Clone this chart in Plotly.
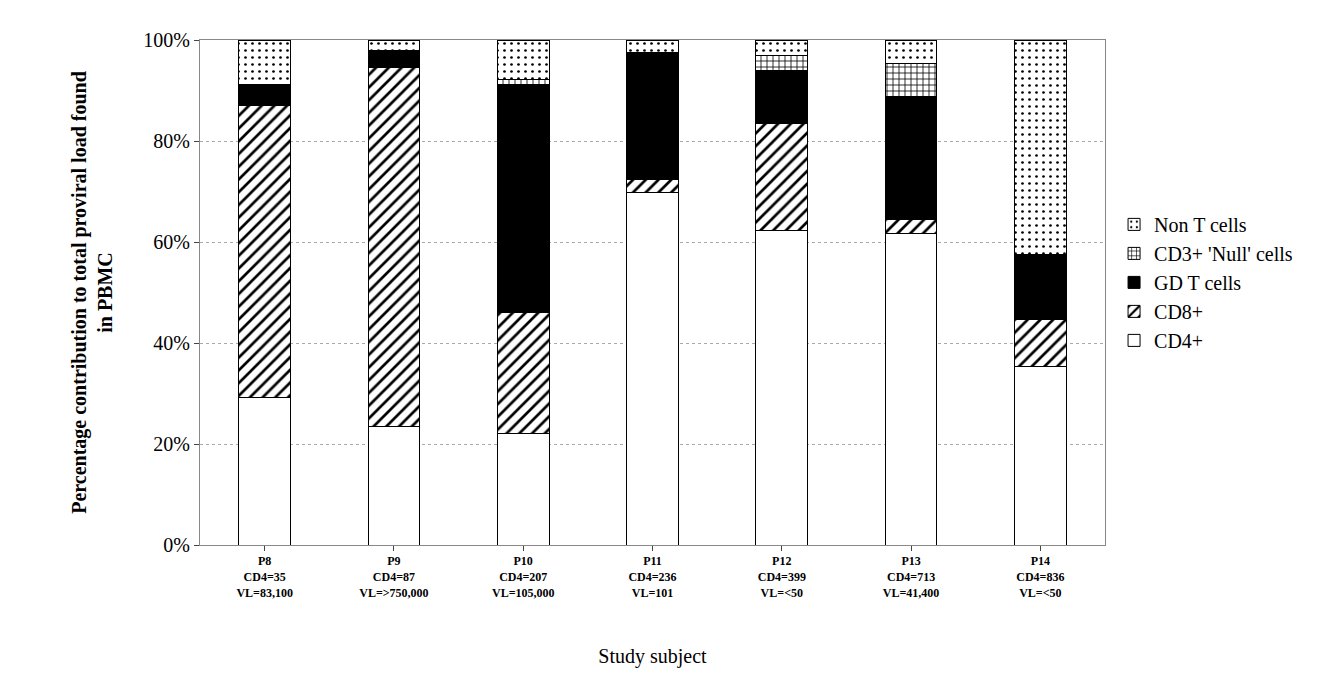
import plotly.graph_objects as go

subjects = ["P8<br>CD4=35<br>VL=83,100", "P9<br>CD4=87<br>VL=>750,000",
            "P10<br>CD4=207<br>VL=105,000", "P11<br>CD4=236<br>VL=101",
            "P12<br>CD4=399<br>VL=<50", "P13<br>CD4=713<br>VL=41,400",
            "P14<br>CD4=836<br>VL=<50"]
cd4 = [29.3, 23.4, 22.0, 69.9, 62.2, 61.6, 35.4]
cd8 = [57.8, 71.1, 24.1, 2.4, 21.2, 2.8, 9.2]
gd_t = [4.0, 3.5, 45.0, 25.3, 10.6, 24.5, 13.0]
cd3_null = [0.0, 0.0, 1.0, 0.0, 3.0, 6.5, 0.0]
non_t = [8.9, 2.0, 7.9, 2.4, 3.0, 4.6, 42.4]

series = [
    ("CD4+", cd4, "white", "", 8, 0.3),
    ("CD8+", cd8, "white", "/", 9, 0.3),
    ("GD T cells", gd_t, "black", "", 8, 0.3),
    ("CD3+ 'Null' cells", cd3_null, "white", "+", 6, 0.25),
    ("Non T cells", non_t, "white", ".", 7, 0.12),
]

serif = "Liberation Serif, Times New Roman, serif"
fig = go.Figure()
for name, vals, color, shape, size, sol in series:
    fig.add_trace(go.Bar(
        name=name, x=subjects, y=vals,
        marker=dict(color=color, line=dict(color="black", width=1),
                    pattern=dict(shape=shape, fgcolor="black", bgcolor=color,
                                 fgopacity=1, size=size, solidity=sol)),
    ))

fig.update_layout(
    barmode="stack", bargap=0.6,
    width=1342, height=689,
    paper_bgcolor="white", plot_bgcolor="white",
    font=dict(family=serif, color="black", size=20),
    margin=dict(l=192, r=245, t=32, b=152),
    legend=dict(traceorder="reversed", x=1.01, y=0.52, yanchor="middle",
                font=dict(family=serif, size=20, color="black")),
    xaxis=dict(title=dict(text="Study subject", standoff=50, font=dict(family=serif, size=20)),
               tickfont=dict(size=12, family=serif),
               showline=True, linecolor="#888", mirror=True, ticks="outside"),
    yaxis=dict(title=dict(text="<b>Percentage contribution to total proviral load found<br>in PBMC</b>",
                          font=dict(family=serif, size=20), standoff=25),
               range=[0, 100], dtick=20, ticksuffix="%", tickfont=dict(family=serif, size=20),
               showgrid=True, gridcolor="#aaa", griddash="dot",
               showline=True, linecolor="#888", mirror=True, ticks="outside"),
)
fig.update_xaxes(tickvals=subjects, ticktext=["<b>" + s + "</b>" for s in subjects])
fig.write_html("out.html")
